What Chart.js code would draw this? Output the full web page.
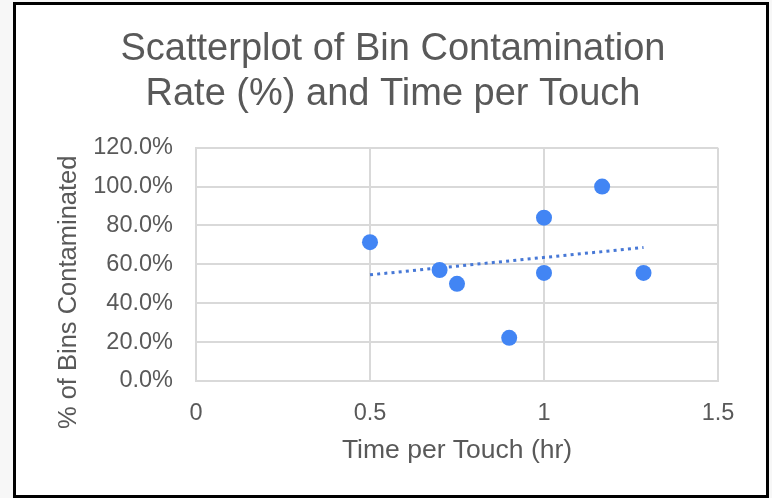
<!DOCTYPE html>
<html>
<head>
<meta charset="utf-8">
<script src="https://cdn.jsdelivr.net/npm/chart.js@4/dist/chart.umd.min.js"></script>
<style>
  html, body { margin: 0; padding: 0; background: #f7f7f7; }
  #frame { position: absolute; left: 13px; top: 2px; width: 756px; height: 496px; box-sizing: border-box;
           border: 3px solid #000; background: #fff; }
  #wrap { position: absolute; left: 0; top: 0; width: 772px; height: 498px; }
</style>
</head>
<body>
<div id="frame"></div>
<div id="wrap"><canvas id="c" width="772" height="498"></canvas></div>
<script>
// ---- data ----
const timePerTouch = [0.5, 0.7, 0.75, 0.9, 1.0, 1.0, 1.167, 1.286];
const pctContaminated = [71.4, 57.1, 50.0, 22.2, 84.0, 55.6, 100.0, 55.6];
const xTickValues = [0, 0.5, 1, 1.5];
const xTickLabels = ['0', '0.5', '1', '1.5'];
const yTickValues = [0, 20, 40, 60, 80, 100, 120];
const yTickLabels = ['0.0%', '20.0%', '40.0%', '60.0%', '80.0%', '100.0%', '120.0%'];
const titleLines = ['Scatterplot of Bin Contamination', 'Rate (%) and Time per Touch'];
const xTitle = 'Time per Touch (hr)';
const yTitle = '% of Bins Contaminated';

// linear trendline (least squares) from the data
const n = timePerTouch.length;
const mx = timePerTouch.reduce((a, b) => a + b, 0) / n;
const my = pctContaminated.reduce((a, b) => a + b, 0) / n;
let sxy = 0, sxx = 0;
for (let i = 0; i < n; i++) {
  sxy += (timePerTouch[i] - mx) * (pctContaminated[i] - my);
  sxx += (timePerTouch[i] - mx) ** 2;
}
const slope = sxy / sxx, icpt = my - slope * mx;
const xMin = Math.min(...timePerTouch), xMax = Math.max(...timePerTouch);
const trend = [{x: xMin, y: icpt + slope * xMin}, {x: xMax, y: icpt + slope * xMax}];

const points = timePerTouch.map((x, i) => ({x, y: pctContaminated[i]}));

const FONT = "'Liberation Sans', Arial, sans-serif";
const TXT = '#595959';
const GRID = '#d9d9d9';

// the y-axis title in the reference sits lower than the plot-area centre
const shiftYTitle = {
  id: 'shiftYTitle',
  afterLayout(chart) {
    const s = chart.scales.y;
    if (s && !s._origDrawTitle) {
      s._origDrawTitle = s.drawTitle;
      s.drawTitle = function () {
        const b = this.bottom;
        this.bottom = b + 56;
        this._origDrawTitle();
        this.bottom = b;
      };
    }
  }
};

new Chart(document.getElementById('c'), {
  type: 'scatter',
  data: {
    datasets: [
      {
        label: 'Bins',
        data: points,
        backgroundColor: '#4285F4',
        borderWidth: 0,
        pointRadius: 8,
        pointHoverRadius: 8,
        order: 1
      },
      {
        type: 'line',
        label: 'Trend',
        data: trend,
        borderColor: '#4778d6',
        borderWidth: 3,
        borderDash: [3, 4.2],
        pointRadius: 0,
        fill: false,
        order: 2
      }
    ]
  },
  plugins: [shiftYTitle],
  options: {
    responsive: false,
    animation: false,
    layout: { padding: { left: 14, right: 0, top: 0, bottom: 0 } },
    plugins: {
      legend: { display: false },
      tooltip: { enabled: false },
      title: {
        display: true,
        text: titleLines,
        color: TXT,
        font: { family: FONT, size: 38, weight: 'normal', lineHeight: 1.18 },
        padding: { top: 27, bottom: 31 }
      }
    },
    scales: {
      x: {
        type: 'linear',
        min: 0, max: 1.5,
        afterBuildTicks: s => { s.ticks = xTickValues.map(v => ({value: v})); },
        afterFit: s => { s.height = 117; s.paddingRight = 54; },
        ticks: {
          color: TXT, padding: 18,
          font: { family: FONT, size: 23.5 },
          maxRotation: 0,
          callback: v => { const i = xTickValues.indexOf(v); return i >= 0 ? xTickLabels[i] : ''; }
        },
        grid: { color: GRID, lineWidth: 2, drawTicks: false },
        border: { color: GRID, width: 2 },
        title: {
          display: true, text: xTitle, color: TXT,
          font: { family: FONT, size: 26.5 },
          padding: { top: 0, bottom: 31 }
        }
      },
      y: {
        type: 'linear',
        min: 0, max: 120,
        afterBuildTicks: s => { s.ticks = yTickValues.map(v => ({value: v})); },
        afterFit: s => { s.width = 182; },
        ticks: {
          color: TXT, padding: 23,
          font: { family: FONT, size: 23.5 },
          callback: v => { const i = yTickValues.indexOf(v); return i >= 0 ? yTickLabels[i] : ''; }
        },
        grid: { color: GRID, lineWidth: 2, drawTicks: false },
        border: { color: GRID, width: 2 },
        title: {
          display: true, text: yTitle, color: TXT,
          font: { family: FONT, size: 25.5 },
          padding: { top: 40, bottom: 0 }
        }
      }
    }
  }
});
</script>
</body>
</html>
